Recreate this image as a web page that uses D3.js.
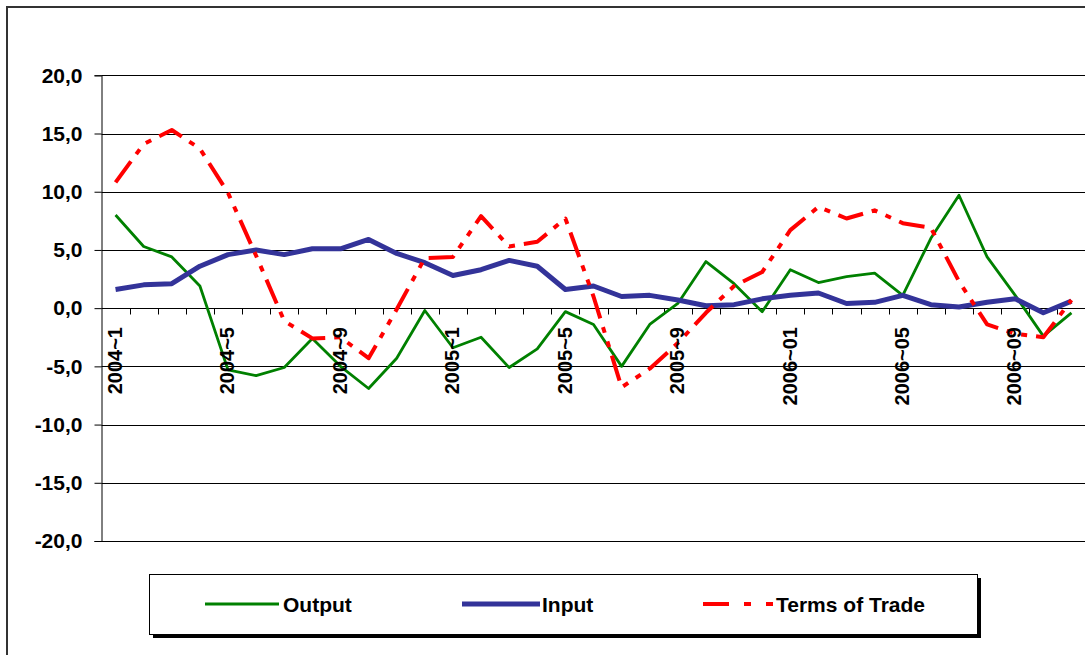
<!DOCTYPE html>
<html>
<head>
<meta charset="utf-8">
<script src="https://cdn.jsdelivr.net/npm/d3@7"></script>
<style>
    body { margin: 0; background: #fff; }
    svg { display: block; font-family: "Liberation Sans", Arial, sans-serif; }
</style>
</head>
<body>
<div id="chart"></div>
<script>
const categories = [
    "2004~1", "2004~2", "2004~3", "2004~4", "2004~5", "2004~6", "2004~7", "2004~8", "2004~9", "2004~10", "2004~11", "2004~12",
    "2005~1", "2005~2", "2005~3", "2005~4", "2005~5", "2005~6", "2005~7", "2005~8", "2005~9", "2005~10", "2005~11", "2005~12",
    "2006~01", "2006~02", "2006~03", "2006~04", "2006~05", "2006~06", "2006~07", "2006~08", "2006~09", "2006~10", "2006~11"
];
const output = [8.0, 5.3, 4.4, 1.9, -5.3, -5.8, -5.1, -2.6, -5.0, -6.9, -4.3, -0.2,
    -3.4, -2.5, -5.1, -3.5, -0.3, -1.4, -5.0, -1.4, 0.4, 4.0, 2.1, -0.3,
    3.3, 2.2, 2.7, 3.0, 1.1, 6.0, 9.7, 4.4, 1.1, -2.4, -0.4];
const input = [1.6, 2.0, 2.1, 3.6, 4.6, 5.0, 4.6, 5.1, 5.1, 5.9, 4.7, 3.9,
    2.8, 3.3, 4.1, 3.6, 1.6, 1.9, 1.0, 1.1, 0.7, 0.2, 0.3, 0.8,
    1.1, 1.3, 0.4, 0.5, 1.1, 0.3, 0.1, 0.5, 0.8, -0.4, 0.6];
const termsOfTrade = [10.8, 14.1, 15.3, 13.7, 9.9, 4.5, -1.1, -2.6, -2.5, -4.3, -0.1, 4.3,
    4.4, 7.9, 5.3, 5.7, 7.7, 1.0, -6.8, -5.2, -3.0, -0.4, 1.9, 3.1,
    6.7, 8.7, 7.7, 8.4, 7.3, 6.9, 2.3, -1.4, -2.2, -2.5, 0.7];
const yTicks = [20, 15, 10, 5, 0, -5, -10, -15, -20];

const series = [
    { name: "Output", values: output, color: "#008000", width: 2.8, dash: null },
    { name: "Input", values: input, color: "#333399", width: 5, dash: null },
    { name: "Terms of Trade", values: termsOfTrade, color: "#ff0000", width: 4, dash: "26,9,6,9,6,9" }
];

const width = 1085, height = 655;
const svg = d3.select("#chart").append("svg")
    .attr("width", width)
    .attr("height", height);

// chart frame
svg.append("rect")
    .attr("x", 7).attr("y", 7)
    .attr("width", width + 20).attr("height", height + 20)
    .attr("fill", "none")
    .attr("stroke", "#333")
    .attr("stroke-width", 2);

const x = d3.scaleBand().domain(categories).range([101.5, 1085.5]).paddingInner(0).paddingOuter(0);
const y = d3.scaleLinear().domain([-20, 20]).range([541, 75.3]);
const cx = d => x(d) + x.bandwidth() / 2;

// gridlines
svg.append("g")
    .selectAll("line")
    .data(yTicks)
    .enter().append("line")
    .attr("x1", 101.5).attr("x2", width)
    .attr("y1", d => Math.round(y(d)) + 0.5)
    .attr("y2", d => Math.round(y(d)) + 0.5)
    .attr("stroke", "#000")
    .attr("stroke-width", 1);

// y axis
const yAxis = svg.append("g")
    .attr("transform", "translate(101.5,0)")
    .call(d3.axisLeft(y).tickValues(yTicks).tickSize(7).tickPadding(12)
        .tickFormat(d => d3.format(".1f")(d).replace(".", ",").replace("−", "-")));
yAxis.select(".domain").attr("stroke", "#000");
yAxis.selectAll(".tick line").attr("stroke", "#000");
yAxis.selectAll("text")
    .attr("font-size", 21)
    .attr("font-weight", "bold")
    .attr("fill", "#000")
    .attr("font-family", "'Liberation Sans', Arial, sans-serif");

// x axis at zero, ticks between categories
const zeroY = Math.round(y(0)) + 0.5;
const bounds = categories.map(c => x(c)).slice(1);
svg.append("g")
    .selectAll("line")
    .data(bounds)
    .enter().append("line")
    .attr("x1", d => Math.round(d) + 0.5).attr("x2", d => Math.round(d) + 0.5)
    .attr("y1", zeroY).attr("y2", zeroY + 6)
    .attr("stroke", "#000");

// lines
const line = d3.line()
    .x((d, i) => cx(categories[i]))
    .y(d => y(d));

series.forEach(s => {
    svg.append("path")
        .datum(s.values)
        .attr("fill", "none")
        .attr("stroke", s.color)
        .attr("stroke-width", s.width)
        .attr("stroke-linejoin", "round")
        .attr("stroke-dasharray", s.dash)
        .attr("d", line);
});

// category labels, every 4th
svg.append("g")
    .selectAll("text")
    .data(categories.filter((c, i) => i % 4 === 0))
    .enter().append("text")
    .attr("transform", d => `translate(${cx(d) - 1},327) rotate(-90)`)
    .attr("text-anchor", "end")
    .attr("dy", "0.36em")
    .attr("font-size", 20)
    .attr("font-weight", "bold")
    .attr("fill", "#000")
    .text(d => d);

// legend
const legend = svg.append("g");
legend.append("rect")
    .attr("x", 153).attr("y", 578)
    .attr("width", 828).attr("height", 60)
    .attr("fill", "#000");
legend.append("rect")
    .attr("x", 149.5).attr("y", 574.5)
    .attr("width", 828).attr("height", 60)
    .attr("fill", "#fff")
    .attr("stroke", "#000")
    .attr("stroke-width", 1);

const legendItems = [
    { x1: 205, x2: 279, tx: 283 },
    { x1: 462, x2: 540, tx: 542 },
    { x1: 703, x2: 773, tx: 776 }
];
series.forEach((s, i) => {
    const it = legendItems[i];
    legend.append("line")
        .attr("x1", it.x1).attr("x2", it.x2)
        .attr("y1", 604).attr("y2", 604)
        .attr("stroke", s.color)
        .attr("stroke-width", s.width)
        .attr("stroke-dasharray", s.dash ? "26,15,7,15,7" : null);
    legend.append("text")
        .attr("x", it.tx).attr("y", 604)
        .attr("dy", "0.36em")
        .attr("font-size", 21)
        .attr("font-weight", "bold")
        .attr("fill", "#000")
        .text(s.name);
});
</script>
</body>
</html>
